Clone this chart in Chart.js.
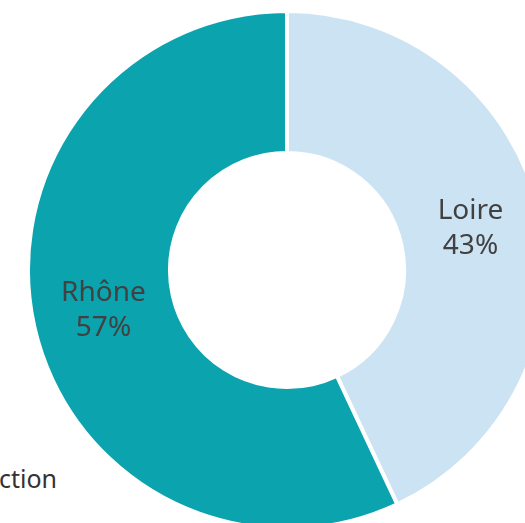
<!DOCTYPE html>
<html>
<head>
<meta charset="utf-8">
<script src="https://cdn.jsdelivr.net/npm/chart.js@4/dist/chart.umd.min.js"></script>
<style>
  html, body { margin: 0; padding: 0; width: 525px; height: 523px; overflow: hidden; background: #fff; }
  #wrap { position: absolute; left: 26px; top: 9px; width: 522px; height: 522px; }
  #note { position: absolute; right: calc(525px - 57px); top: 461px; font-family: "Noto Sans", sans-serif; font-size: 25px; color: #333; white-space: nowrap; }
</style>
</head>
<body>
<div id="note">Production</div>
<div id="wrap"><canvas id="c" width="522" height="522"></canvas></div>
<script>
const categories = ["Loire", "Rhône"];
const shares = [43, 57];
const sliceColors = ["#cce3f4", "#0aa3ae"];

const labelPlugin = {
  id: 'sliceLabels',
  afterDatasetsDraw(chart) {
    const ctx = chart.ctx;
    const meta = chart.getDatasetMeta(0);
    ctx.save();
    ctx.font = '28px "Noto Sans", sans-serif';
    ctx.fillStyle = '#414141';
    ctx.textAlign = 'center';
    ctx.textBaseline = 'middle';
    meta.data.forEach((arc, i) => {
      const p = arc.getCenterPoint();
      ctx.fillText(chart.data.labels[i], p.x, p.y - 18);
      ctx.fillText(chart.data.datasets[0].data[i] + '%', p.x, p.y + 17);
    });
    ctx.restore();
  }
};

new Chart(document.getElementById('c'), {
  type: 'doughnut',
  data: {
    labels: categories,
    datasets: [{
      data: shares,
      backgroundColor: sliceColors,
      borderColor: '#ffffff',
      borderWidth: 4
    }]
  },
  options: {
    responsive: false,
    devicePixelRatio: 1,
    animation: false,
    cutout: '45.2%',
    layout: { padding: 0 },
    plugins: { legend: { display: false }, tooltip: { enabled: false }, title: { display: false } }
  },
  plugins: [labelPlugin]
});
</script>
</body>
</html>
